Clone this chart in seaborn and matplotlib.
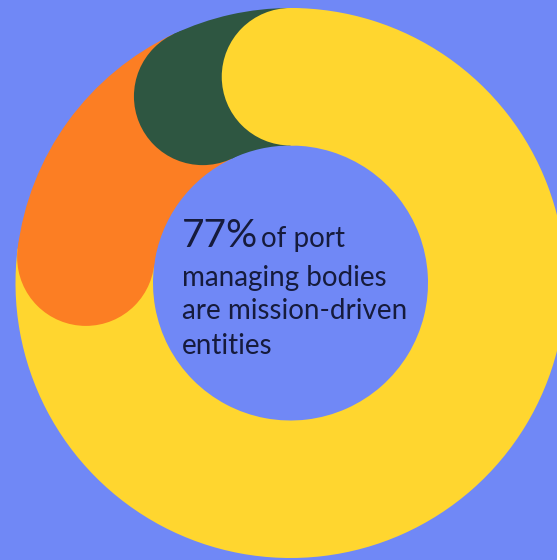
import matplotlib
matplotlib.use("Agg")
import matplotlib.pyplot as plt
import seaborn as sns
from matplotlib.patches import Circle
import numpy as np

# Share of port managing bodies by type (percent)
shares = [77, 16, 7]
segment_names = ["Mission-driven", "Other", "Not specified"]
palette = ["#FFD62F", "#FC7E23", "#2E5641"]

headline = "77%"
caption_first = "of port"
caption_lines = ["managing bodies", "are mission-driven", "entities"]

sns.set_theme(style="white")
plt.rcParams["font.family"] = ["Lato", "DejaVu Sans"]

BG = "#7088F6"
INK = "#161B3C"
W, H = 557, 560
R_PX = 275.0            # outer radius in pixels
CX, CY = 290.5, 283.0   # ring centre, pixels from top-left
RING = 0.5              # ring width as a fraction of the outer radius

fig = plt.figure(figsize=(W / 100, H / 100), dpi=100, facecolor=BG)
ax = fig.add_axes([0, 0, 1, 1])
ax.set_facecolor(BG)

wedges, _ = ax.pie(
    shares,
    colors=palette,
    startangle=90,
    counterclock=False,
    radius=1.0,
    wedgeprops=dict(width=RING, linewidth=0, antialiased=True),
)

# Rounded leading cap on each segment, overlapping the segment before it;
# the first segment's cap is drawn last so it sits over the final segment.
mid_r = 1.0 - RING / 2
for i, (w, col) in enumerate(zip(wedges, palette)):
    ang = np.deg2rad(w.theta2)
    ax.add_patch(Circle((mid_r * np.cos(ang), mid_r * np.sin(ang)), RING / 2,
                        color=col, lw=0, zorder=10 - i))

ax.set_xlim(-CX / R_PX, (W - CX) / R_PX)
ax.set_ylim(-(H - CY) / R_PX, CY / R_PX)
ax.set_aspect("equal")
ax.axis("off")


def px(x, y):
    return (x - CX) / R_PX, (CY - y) / R_PX


x0 = 182
t_big = ax.text(*px(x0, 247), headline, fontsize=28, color=INK,
                va="baseline", ha="left", zorder=20)
fig.canvas.draw()
bb = t_big.get_window_extent()
ax.text(*px(bb.x1 + 3, 247), caption_first, fontsize=20, color=INK,
        va="baseline", ha="left", zorder=20)

for line, base in zip(caption_lines, [286, 319, 354]):
    ax.text(*px(x0, base), line, fontsize=20, color=INK,
            va="baseline", ha="left", zorder=20)

fig.savefig("out.png", dpi=100, facecolor=BG)
